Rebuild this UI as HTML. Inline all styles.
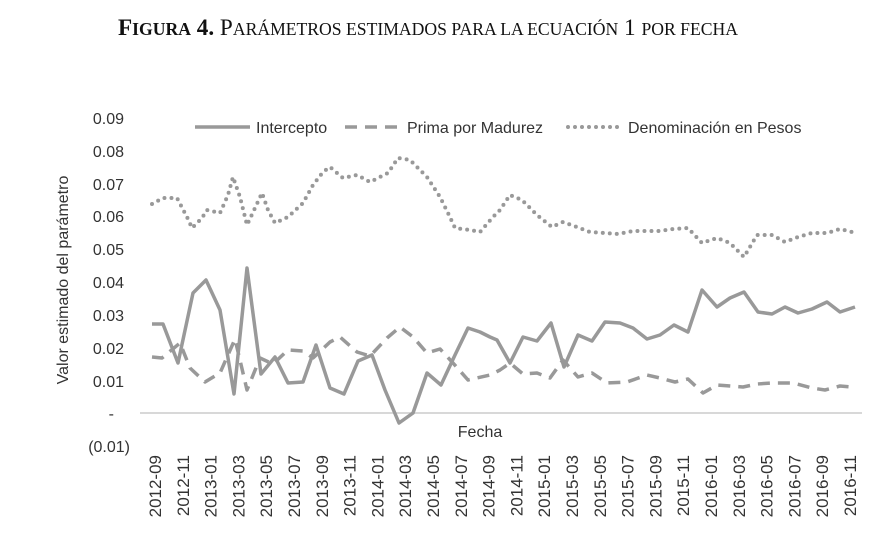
<!DOCTYPE html>
<html><head><meta charset="utf-8"><style>
body{margin:0;background:#fff;width:893px;height:533px;overflow:hidden}
</style></head><body>
<svg width="893" height="533" xmlns="http://www.w3.org/2000/svg" font-family="Liberation Sans, sans-serif">
<text x="118" y="35" font-family="Liberation Serif, serif" font-size="23" font-weight="bold" fill="#111" textLength="620" lengthAdjust="spacingAndGlyphs">F<tspan font-size="17.5">IGURA</tspan> 4. <tspan font-weight="normal">P<tspan font-size="17.5">ARÁMETROS ESTIMADOS PARA LA ECUACIÓN</tspan> 1 <tspan font-size="17.5">POR FECHA</tspan></tspan></text>
<g font-size="16" fill="#333" text-anchor="end">
<text x="124" y="124">0.09</text><text x="124" y="157">0.08</text><text x="124" y="190">0.07</text><text x="124" y="222">0.06</text><text x="124" y="255">0.05</text><text x="124" y="288">0.04</text><text x="124" y="321">0.03</text><text x="124" y="354">0.02</text><text x="124" y="387">0.01</text><text x="114" y="419">-</text><text x="130" y="452">(0.01)</text>
</g>
<text transform="translate(68,280) rotate(-90)" font-size="16" fill="#333" text-anchor="middle">Valor estimado del parámetro</text>
<line x1="140" y1="413" x2="862" y2="413" stroke="#ccc" stroke-width="1.5"/>
<text x="480" y="437" font-size="16" fill="#333" text-anchor="middle">Fecha</text>
<g font-size="17" fill="#333" text-anchor="end">
<text transform="translate(161,455) rotate(-90)">2012-09</text>
<text transform="translate(188.8,455) rotate(-90)">2012-11</text>
<text transform="translate(216.6,455) rotate(-90)">2013-01</text>
<text transform="translate(244.4,455) rotate(-90)">2013-03</text>
<text transform="translate(272.2,455) rotate(-90)">2013-05</text>
<text transform="translate(300,455) rotate(-90)">2013-07</text>
<text transform="translate(327.8,455) rotate(-90)">2013-09</text>
<text transform="translate(355.6,455) rotate(-90)">2013-11</text>
<text transform="translate(383.4,455) rotate(-90)">2014-01</text>
<text transform="translate(411.2,455) rotate(-90)">2014-03</text>
<text transform="translate(439,455) rotate(-90)">2014-05</text>
<text transform="translate(466.8,455) rotate(-90)">2014-07</text>
<text transform="translate(494.6,455) rotate(-90)">2014-09</text>
<text transform="translate(522.4,455) rotate(-90)">2014-11</text>
<text transform="translate(550.2,455) rotate(-90)">2015-01</text>
<text transform="translate(578,455) rotate(-90)">2015-03</text>
<text transform="translate(605.8,455) rotate(-90)">2015-05</text>
<text transform="translate(633.6,455) rotate(-90)">2015-07</text>
<text transform="translate(661.4,455) rotate(-90)">2015-09</text>
<text transform="translate(689.2,455) rotate(-90)">2015-11</text>
<text transform="translate(717,455) rotate(-90)">2016-01</text>
<text transform="translate(744.8,455) rotate(-90)">2016-03</text>
<text transform="translate(772.6,455) rotate(-90)">2016-05</text>
<text transform="translate(800.4,455) rotate(-90)">2016-07</text>
<text transform="translate(828.2,455) rotate(-90)">2016-09</text>
<text transform="translate(856,455) rotate(-90)">2016-11</text>
</g>
<g fill="none" stroke="#999" stroke-linejoin="round">
<polyline stroke-width="3.5" points="152,324 163,324 178,363 193,293 206,280 220,310 234,394 247,268 261,374 275,357 288,383 303,382 316,345 330,388 344,394 358,361 372,355 385,390 399,423 413,413 427,373 441,385 455,355 468,328 480,332 490,337 497,340 510,363 523,337 537,341 551,323 564,367 578,335 592,341 605,322 620,323 633,328 647,339 660,335 674,325 688,332 702,290 717,307 730,298 744,292 758,312 772,314 785,307 798,313 812,309 827,302 840,312 855,307"/>
<polyline stroke-width="3.5" stroke-dasharray="12 8" points="152,357 162,358 180,343 190,368 205,382 220,373 235,339 247,390 260,358 273,364 288,350 303,351 313,358 330,342 340,337 357,352 370,356 387,338 400,327 413,337 427,353 440,349 453,363 468,380 490,375 500,370 510,363 523,374 537,373 550,378 563,360 578,377 592,373 607,383 627,382 647,375 660,378 675,382 688,379 703,393 717,385 743,387 757,384 772,383 793,383 812,388 825,390 840,386 852,387"/>
<polyline stroke-width="4" stroke-dasharray="0 7" stroke-linecap="round" points="152,204 163,198 177,198 187,217 192,228 202,218 207,210 220,213 228,195 233,177 240,197 247,225 255,208 262,193 268,210 275,223 288,217 303,203 313,185 323,172 330,167 343,178 357,175 370,182 388,173 398,158 410,160 427,177 440,197 448,213 455,228 470,230 480,232 493,217 500,210 510,195 522,200 537,215 552,227 563,222 577,227 590,232 605,233 618,234 633,231 647,231 660,231 673,229 688,228 702,243 717,238 730,243 744,257 757,235 772,235 785,242 798,237 812,233 827,233 840,229 852,232"/>
<line x1="195" y1="127" x2="250" y2="127" stroke-width="3.5"/>
<line x1="345" y1="127" x2="400" y2="127" stroke-width="3.5" stroke-dasharray="12 8"/>
<line x1="568" y1="127" x2="620" y2="127" stroke-width="4" stroke-dasharray="0 7" stroke-linecap="round"/>
</g>
<g font-size="16" fill="#333">
<text x="256" y="133">Intercepto</text>
<text x="407" y="133">Prima por Madurez</text>
<text x="628" y="133">Denominación en Pesos</text>
</g>
</svg>
</body></html>
